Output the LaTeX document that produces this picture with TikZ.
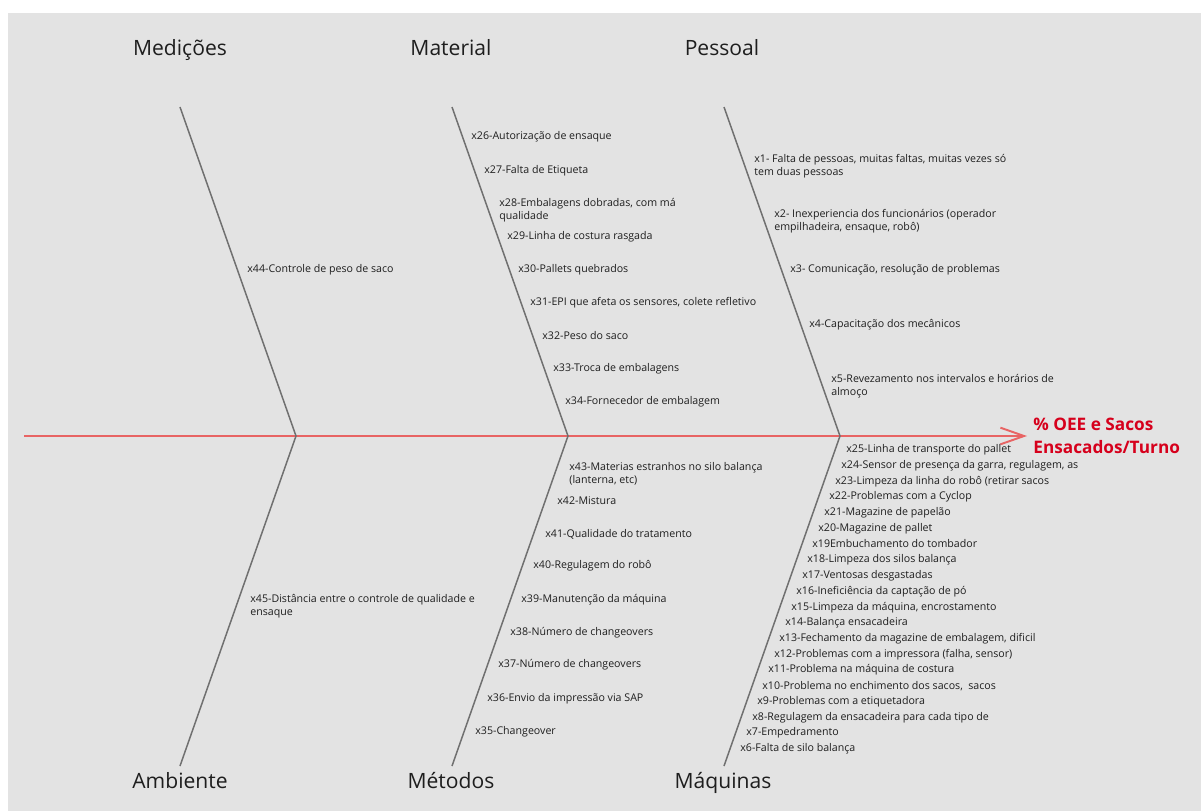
\documentclass[tikz,border=0pt]{standalone}
\usepackage{fontspec}
\setmainfont{Open Sans}
\usetikzlibrary{arrows.meta}
\definecolor{panel}{HTML}{E3E3E3}
\definecolor{bonegray}{HTML}{707070}
\definecolor{spinered}{HTML}{E86464}
\definecolor{effectred}{HTML}{D6001C}
\definecolor{ink}{HTML}{1E1E1E}
\tikzset{
  bone/.style={draw=bonegray, line width=0.85pt},
  spine/.style={draw=spinered, line width=1.1pt, -{Straight Barb[length=13.5pt,width=9.5pt,line width=1.1pt]}},
  category/.style={font=\fontsize{12}{14}\selectfont, text=ink, inner sep=0pt, anchor=base},
  cause/.style={font=\fontsize{6.05}{7.4}\selectfont, text=ink, inner sep=0pt, anchor=west, align=left, yshift=-1.1pt},
  effect/.style={font=\fontsize{9.8}{12.8}\selectfont\bfseries, text=effectred, inner sep=0pt, anchor=west, align=left}
}
\begin{document}
\begin{tikzpicture}[x=0.02cm, y=-0.02cm]
\useasboundingbox (0,0) rectangle (1201,811);
\fill[white] (0,0) rectangle (1201,811);
\fill[panel] (8,13) rectangle (1201,811);

% spine junctions and bone ends
\coordinate (tail) at (24,436);
\coordinate (head) at (1027,436);
\coordinate (j1) at (296,436);
\coordinate (j2) at (568,436);
\coordinate (j3) at (840,436);
\coordinate (t1) at (180,107);
\coordinate (t2) at (452,107);
\coordinate (t3) at (724,107);
\coordinate (b1) at (180,766);
\coordinate (b2) at (452,766);
\coordinate (b3) at (724,766);

\draw[spine] (tail) -- (head);
\foreach \i in {1,2,3} {
  \draw[bone] (t\i) -- (j\i) -- (b\i);
}

% effect
\node[effect] (effect) at (1033,436) {\% OEE e Sacos\\Ensacados/Turno};

% categories
\node[category] (medicoes) at (180,55.5) {Medições};
\node[category] (material) at (451,55.5) {Material};
\node[category] (pessoal) at (722,55.5) {Pessoal};
\node[category] (ambiente) at (180,788.5) {Ambiente};
\node[category] (metodos) at (451,788.5) {Métodos};
\node[category] (maquinas) at (723,788.5) {Máquinas};

% Medições
\node[cause] (x44) at (247,268) {x44-Controle de peso de saco};

% Ambiente
\node[cause] (x45) at (250,604) {x45-Distância entre o controle de qualidade e\\ensaque};

% Material
\node[cause] (x26) at (471,135) {x26-Autorização de ensaque};
\node[cause] (x27) at (484,169) {x27-Falta de Etiqueta};
\node[cause] (x28) at (499,208) {x28-Embalagens dobradas, com má\\qualidade};
\node[cause] (x29) at (507,235) {x29-Linha de costura rasgada};
\node[cause] (x30) at (518,268) {x30-Pallets quebrados};
\node[cause] (x31) at (530,301) {x31-EPI que afeta os sensores, colete refletivo};
\node[cause] (x32) at (542,334) {x32-Peso do saco};
\node[cause] (x33) at (553,367) {x33-Troca de embalagens};
\node[cause] (x34) at (565,400) {x34-Fornecedor de embalagem};

% Pessoal
\node[cause] (x1) at (754,164) {x1- Falta de pessoas, muitas faltas, muitas vezes só\\tem duas pessoas};
\node[cause] (x2) at (774,219) {x2- Inexperiencia dos funcionários (operador\\empilhadeira, ensaque, robô)};
\node[cause] (x3) at (790,268) {x3- Comunicação, resolução de problemas};
\node[cause] (x4) at (809,323) {x4-Capacitação dos mecânicos};
\node[cause] (x5) at (831,384) {x5-Revezamento nos intervalos e horários de\\almoço};

% Métodos
\node[cause] (x43) at (569,472) {x43-Materias estranhos no silo balança\\(lanterna, etc)};
\node[cause] (x42) at (557,499) {x42-Mistura};
\node[cause] (x41) at (545,532) {x41-Qualidade do tratamento};
\node[cause] (x40) at (533,564) {x40-Regulagem do robô};
\node[cause] (x39) at (521,598) {x39-Manutenção da máquina};
\node[cause] (x38) at (510,631) {x38-Número de changeovers};
\node[cause] (x37) at (498,663) {x37-Número de changeovers};
\node[cause] (x36) at (487,697) {x36-Envio da impressão via SAP};
\node[cause] (x35) at (475,730) {x35-Changeover};

% Máquinas
\node[cause] (x25) at (846,448) {x25-Linha de transporte do pallet};
\node[cause] (x24) at (841,464) {x24-Sensor de presença da garra, regulagem, as};
\node[cause] (x23) at (835,480) {x23-Limpeza da linha do robô (retirar sacos};
\node[cause] (x22) at (829,495) {x22-Problemas com a Cyclop};
\node[cause] (x21) at (824,511) {x21-Magazine de papelão};
\node[cause] (x20) at (818,527) {x20-Magazine de pallet};
\node[cause] (x19) at (812,542) {x19Embuchamento do tombador};
\node[cause] (x18) at (807,558) {x18-Limpeza dos silos balança};
\node[cause] (x17) at (802,574) {x17-Ventosas desgastadas};
\node[cause] (x16) at (796,590) {x16-Ineficiência da captação de pó};
\node[cause] (x15) at (791,606) {x15-Limpeza da máquina, encrostamento};
\node[cause] (x14) at (785,621) {x14-Balança ensacadeira};
\node[cause] (x13) at (779,637) {x13-Fechamento da magazine de embalagem, dificil};
\node[cause] (x12) at (774,653) {x12-Problemas com a impressora (falha, sensor)};
\node[cause] (x11) at (768,668) {x11-Problema na máquina de costura};
\node[cause] (x10) at (762,684) {x10-Problema no enchimento dos sacos,\ \ sacos};
\node[cause] (x9) at (757,700) {x9-Problemas com a etiquetadora};
\node[cause] (x8) at (752,716) {x8-Regulagem da ensacadeira para cada tipo de};
\node[cause] (x7) at (746,731) {x7-Empedramento};
\node[cause] (x6) at (740,747) {x6-Falta de silo balança};
\end{tikzpicture}
\end{document}
